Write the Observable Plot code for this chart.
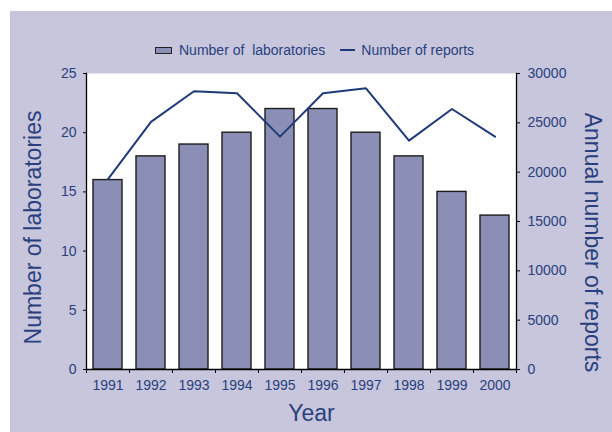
<!DOCTYPE html>
<html>
<head>
<meta charset="utf-8">
<script src="https://cdn.jsdelivr.net/npm/d3@7"></script>
<script src="https://cdn.jsdelivr.net/npm/@observablehq/plot@0.6"></script>
<style>
  html, body { margin: 0; padding: 0; background: #ffffff; width: 612px; height: 432px; overflow: hidden; }
  #bg { position: absolute; left: 10px; top: 11px; width: 602px; height: 421px; background: #c7c6dc; }
  #legend { position: absolute; left: 155px; top: 41px; height: 18px; display: flex; align-items: center;
            font-family: "Liberation Sans", Arial, sans-serif; font-size: 14px; color: #2a3f7e; white-space: pre; }
  .sw-bar { display: inline-block; width: 15px; height: 5px; background: #8b8fb5; border: 1px solid #222; margin-right: 7px; }
  .sw-line { display: inline-block; width: 15px; height: 2.5px; background: #1f3a78; margin-left: 15px; margin-right: 6px; }
  #chart { position: absolute; left: 0; top: 60px; }
</style>
</head>
<body>
<div id="bg"></div>
<div id="legend"><span class="sw-bar"></span><span>Number of  laboratories</span><span class="sw-line"></span><span>Number of reports</span></div>
<div id="chart"></div>
<script>
const years = ["1991","1992","1993","1994","1995","1996","1997","1998","1999","2000"];
const laboratories = [16, 18, 19, 20, 22, 22, 20, 18, 15, 13];
const reports = [19300, 25100, 28200, 28000, 23600, 28000, 28500, 23200, 26400, 23600];
const leftTicks = [0, 5, 10, 15, 20, 25];
const rightTicks = [0, 5000, 10000, 15000, 20000, 25000, 30000];
const leftMax = 25, rightMax = 30000;

const data = years.map((y, i) => ({year: y, labs: laboratories[i], reports: reports[i]}));
const toLeft = v => v * leftMax / rightMax;
const navy = "#2a3f7e";

const plot = Plot.plot({
  width: 612,
  height: 372,
  marginLeft: 86,
  marginRight: 96,
  marginTop: 13,
  marginBottom: 63,
  style: {background: "transparent", color: navy, fontFamily: "'Liberation Sans', Arial, sans-serif", fontSize: "14px", overflow: "visible"},
  x: {domain: years, paddingInner: 0.33, paddingOuter: 0.165, label: null},
  y: {domain: [0, leftMax], label: null},
  marks: [
    Plot.frame({fill: "white", stroke: null}),
    Plot.barY(data, {x: "year", y: "labs", fill: "#8b8fb5", stroke: "#1c1c1c", strokeWidth: 1.4}),
    Plot.line(data, {x: "year", y: d => toLeft(d.reports), stroke: "#1f3a78", strokeWidth: 2}),
    Plot.frame({anchor: "left", stroke: "black", strokeWidth: 1.3}),
    Plot.frame({anchor: "right", stroke: "black", strokeWidth: 1.3}),
    Plot.frame({anchor: "bottom", stroke: "black", strokeWidth: 1.3}),
    Plot.axisY(leftTicks, {anchor: "left", tickSize: 3, tickPadding: 7, stroke: "black", fill: navy, label: null}),
    Plot.axisY(rightTicks.map(toLeft), {anchor: "right", tickSize: 3, tickPadding: 8, stroke: "black", fill: navy, label: null,
      tickFormat: d => String(Math.round(d * rightMax / leftMax))}),
    Plot.axisX({anchor: "bottom", tickSize: 0, tickPadding: 11, fill: navy, label: null}),
    Plot.ruleX(years, {x: d => d, y1: 0, y2: 0, dx: -21.5, insetBottom: -4, stroke: "black"}),
    Plot.ruleX([years[years.length - 1]], {x: d => d, y1: 0, y2: 0, dx: 21.5, insetBottom: -4, stroke: "black"}),
    Plot.text(["Number of laboratories"], {frameAnchor: "left", textAnchor: "middle", dx: -53, dy: 6, rotate: -90, fontSize: 23, fill: navy}),
    Plot.text(["Annual number of reports"], {frameAnchor: "right", textAnchor: "middle", dx: 76, dy: 21, rotate: 90, fontSize: 23, fill: navy}),
    Plot.text(["Year"], {frameAnchor: "bottom", dx: 10, dy: 51, fontSize: 23, fill: navy})
  ]
});
document.getElementById("chart").appendChild(plot);
</script>
</body>
</html>
